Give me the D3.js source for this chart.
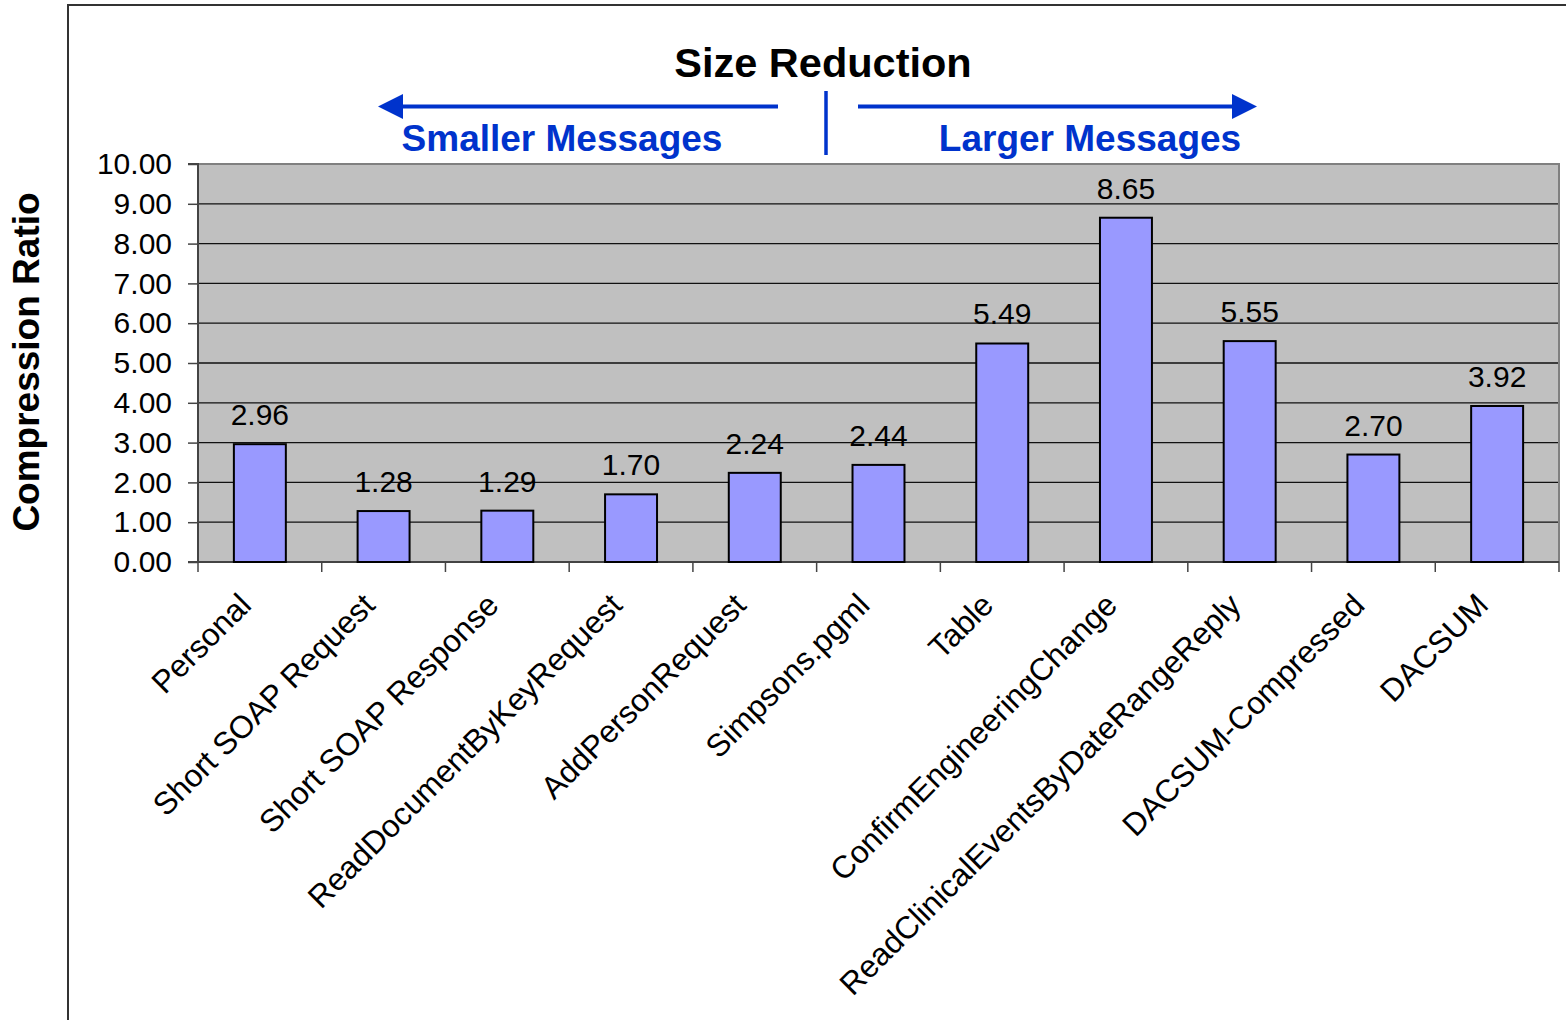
<!DOCTYPE html>
<html>
<head>
<meta charset="utf-8">
<script src="https://cdn.jsdelivr.net/npm/d3@7"></script>
<style>
  html, body { margin: 0; padding: 0; background: #fff; }
  svg { display: block; font-family: "Liberation Sans", Arial, sans-serif; }
</style>
</head>
<body>
<svg id="chart" width="1566" height="1020"></svg>
<script>
// Message types and their compression ratios
const categories = [
  "Personal", "Short SOAP Request", "Short SOAP Response",
  "ReadDocumentByKeyRequest", "AddPersonRequest", "Simpsons.pgml",
  "Table", "ConfirmEngineeringChange", "ReadClinicalEventsByDateRangeReply",
  "DACSUM-Compressed", "DACSUM"
];
const ratios = [2.96, 1.28, 1.29, 1.70, 2.24, 2.44, 5.49, 8.65, 5.55, 2.70, 3.92];
const yTicks = [0, 1, 2, 3, 4, 5, 6, 7, 8, 9, 10];

const svg = d3.select("#chart");
const blue = "#0033cc";

const plot = { left: 198, right: 1559, top: 164, bottom: 562 };

const x = d3.scaleBand().domain(categories).range([plot.left, plot.right]).paddingInner(0).paddingOuter(0);
const y = d3.scaleLinear().domain([0, 10]).range([plot.bottom, plot.top]);
const barW = x.bandwidth() * 0.42;

// outer frame (left and top edges)
svg.append("path")
  .attr("d", "M68,1020V5H1566")
  .attr("fill", "none").attr("stroke", "#333").attr("stroke-width", 2);

// plot background
svg.append("rect")
  .attr("x", plot.left).attr("y", plot.top)
  .attr("width", plot.right - plot.left).attr("height", plot.bottom - plot.top)
  .attr("fill", "#c0c0c0");

// horizontal gridlines
svg.append("g").selectAll("line")
  .data(yTicks.filter(t => t > 0 && t < 10))
  .join("line")
  .attr("x1", plot.left).attr("x2", plot.right)
  .attr("y1", d => y(d)).attr("y2", d => y(d))
  .attr("stroke", "#111").attr("stroke-width", 1.3);

// top and right border of plot area
svg.append("path")
  .attr("d", `M${plot.left},${plot.top}H${plot.right}V${plot.bottom}`)
  .attr("fill", "none").attr("stroke", "#808080").attr("stroke-width", 2);

// y axis
const yAxis = d3.axisLeft(y).tickValues(yTicks).tickSize(10).tickPadding(16)
  .tickFormat(d3.format(".2f"));
const gy = svg.append("g").attr("transform", `translate(${plot.left},0)`).call(yAxis);
gy.select(".domain").attr("stroke", "#444").attr("stroke-width", 2)
  .attr("d", `M-10,${plot.top}H0V${plot.bottom}H-10`);
gy.selectAll(".tick line").attr("stroke", "#444").attr("stroke-width", 1.5);
gy.selectAll(".tick text")
  .attr("font-size", 30).attr("fill", "#000")
  .attr("font-family", "Liberation Sans, Arial, sans-serif");

// x axis: ticks at category boundaries
const bounds = categories.map(c => x(c)).concat([plot.right]);
svg.append("line")
  .attr("x1", plot.left).attr("x2", plot.right)
  .attr("y1", plot.bottom).attr("y2", plot.bottom)
  .attr("stroke", "#444").attr("stroke-width", 2);
svg.append("g").selectAll("line")
  .data(bounds)
  .join("line")
  .attr("x1", d => d).attr("x2", d => d)
  .attr("y1", plot.bottom).attr("y2", plot.bottom + 10)
  .attr("stroke", "#444").attr("stroke-width", 1.5);

// bars
svg.append("g").selectAll("rect")
  .data(categories)
  .join("rect")
  .attr("x", (d) => x(d) + (x.bandwidth() - barW) / 2)
  .attr("width", barW)
  .attr("y", (d, i) => y(ratios[i]))
  .attr("height", (d, i) => y(0) - y(ratios[i]))
  .attr("fill", "#9999ff").attr("stroke", "#000").attr("stroke-width", 2);

// value labels
svg.append("g").selectAll("text")
  .data(categories)
  .join("text")
  .attr("x", d => x(d) + x.bandwidth() / 2)
  .attr("y", (d, i) => y(ratios[i]) - 19)
  .attr("text-anchor", "middle")
  .attr("font-size", 30)
  .text((d, i) => ratios[i].toFixed(2));

// rotated category labels
svg.append("g").selectAll("text")
  .data(categories)
  .join("text")
  .attr("transform", d => `translate(${x(d) + x.bandwidth() / 2 - 7},607) rotate(-45)`)
  .attr("text-anchor", "end")
  .attr("font-size", 31.6)
  .text(d => d);

// y axis title
svg.append("text")
  .attr("transform", "translate(39,362) rotate(-90)")
  .attr("text-anchor", "middle")
  .attr("font-size", 37).attr("font-weight", "bold")
  .text("Compression Ratio");

// chart title
svg.append("text")
  .attr("x", 823).attr("y", 77)
  .attr("text-anchor", "middle")
  .attr("font-size", 41.5).attr("font-weight", "bold")
  .text("Size Reduction");

// direction annotations
svg.append("text")
  .attr("x", 562).attr("y", 151)
  .attr("text-anchor", "middle").attr("fill", blue)
  .attr("font-size", 37).attr("font-weight", "bold")
  .text("Smaller Messages");
svg.append("text")
  .attr("x", 1090).attr("y", 151)
  .attr("text-anchor", "middle").attr("fill", blue)
  .attr("font-size", 37).attr("font-weight", "bold")
  .text("Larger Messages");

const ann = svg.append("g").attr("fill", blue).attr("stroke", blue);
ann.append("line").attr("x1", 400).attr("x2", 778).attr("y1", 106.5).attr("y2", 106.5).attr("stroke-width", 4);
ann.append("path").attr("d", "M378,106.5L403,94L403,119Z").attr("stroke", "none");
ann.append("line").attr("x1", 858).attr("x2", 1236).attr("y1", 106.5).attr("y2", 106.5).attr("stroke-width", 4);
ann.append("path").attr("d", "M1257,106.5L1232,94L1232,119Z").attr("stroke", "none");
ann.append("line").attr("x1", 826).attr("x2", 826).attr("y1", 91).attr("y2", 155).attr("stroke-width", 3.5);
</script>
</body>
</html>
